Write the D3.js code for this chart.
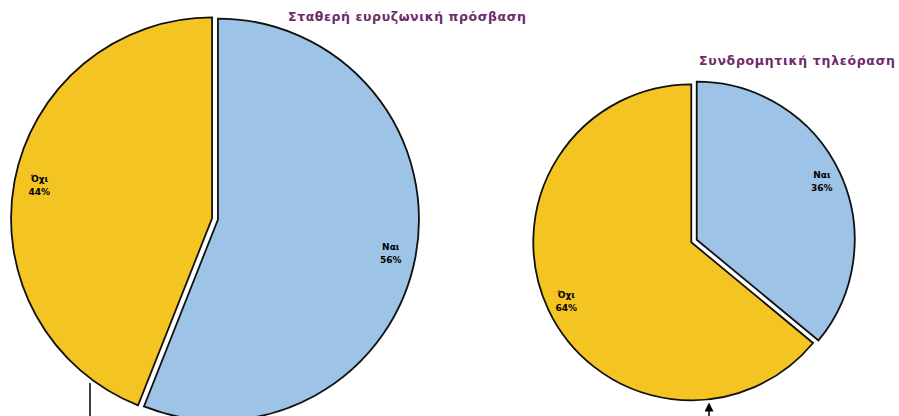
<!DOCTYPE html>
<html lang="el">

<head>
    <meta charset="UTF-8" />
    <script src="https://d3js.org/d3.v7.min.js"></script>
    <title>Pies</title>
    <style>
        body {
            margin: 0;
            background: #fff;
        }

        .title {
            font-family: "DejaVu Sans", Verdana, sans-serif;
            font-weight: bold;
            font-size: 12.5px;
            fill: #6e2a6a;
        }

        .slice {
            stroke: #111;
            stroke-width: 1.8;
        }

        .lbl {
            font-family: "DejaVu Sans", Verdana, sans-serif;
            font-weight: bold;
            font-size: 9px;
            fill: #000;
        }
    </style>
</head>

<body>
    <svg id="chart" width="899" height="416"></svg>
    <script>
        // data
        const categories = ["Ναι", "Όχι"];
        const broadband = [56, 44];
        const payTv = [36, 64];
        const titles = ["Σταθερή ευρυζωνική πρόσβαση", "Συνδρομητική τηλεόραση"];

        const colors = d3.scaleOrdinal().domain(categories).range(["#9dc3e6", "#f4c422"]);

        const svg = d3.select("#chart");

        // arrow marker for the little pointer under the right pie
        svg.append("defs").append("marker")
            .attr("id", "arr")
            .attr("viewBox", "0 0 10 10")
            .attr("refX", 5).attr("refY", 5)
            .attr("markerWidth", 6).attr("markerHeight", 6)
            .attr("orient", "auto-start-reverse")
            .append("path")
            .attr("d", "M0,0 L10,5 L0,10 z")
            .attr("fill", "#000");

        const pie = d3.pie().sort(null).value(d => d.value);

        function drawPie(values, cx, cy, r, explode, title, tx, ty, tlen) {
            const g = svg.append("g").attr("transform", `translate(${cx},${cy})`);
            const arc = d3.arc().innerRadius(0).outerRadius(r);
            const rows = categories.map((c, i) => ({ cat: c, value: values[i] }));

            const slices = g.selectAll("g.s")
                .data(pie(rows))
                .join("g")
                .attr("class", "s")
                .attr("transform", d => {
                    const a = (d.startAngle + d.endAngle) / 2;
                    return `translate(${Math.sin(a) * explode},${-Math.cos(a) * explode})`;
                });

            slices.append("path")
                .attr("class", "slice")
                .attr("d", arc)
                .attr("fill", d => colors(d.data.cat));

            const lab = slices.append("text")
                .attr("class", "lbl")
                .attr("text-anchor", "middle")
                .attr("transform", d => {
                    const a = (d.startAngle + d.endAngle) / 2;
                    return `translate(${Math.sin(a) * r * 0.875},${-Math.cos(a) * r * 0.875})`;
                });
            lab.append("tspan").attr("x", 0).attr("y", -3).text(d => d.data.cat);
            lab.append("tspan").attr("x", 0).attr("y", 10).text(d => d.data.value + "%");

            svg.append("text")
                .attr("class", "title")
                .attr("x", tx)
                .attr("y", ty)
                .attr("textLength", tlen)
                .attr("lengthAdjust", "spacing")
                .text(title);
        }

        drawPie(broadband, 215, 219, 201, 3, titles[0], 288, 21, 238);
        drawPie(payTv, 694, 241, 158, 3, titles[1], 699, 65, 196);

        // leader lines at the bottom edge
        svg.append("line")
            .attr("x1", 90).attr("x2", 90)
            .attr("y1", 383).attr("y2", 416)
            .attr("stroke", "#000").attr("stroke-width", 1.5);

        svg.append("line")
            .attr("x1", 709).attr("x2", 709)
            .attr("y1", 416).attr("y2", 407)
            .attr("stroke", "#000").attr("stroke-width", 1.5)
            .attr("marker-end", "url(#arr)");
    </script>
</body>

</html>
